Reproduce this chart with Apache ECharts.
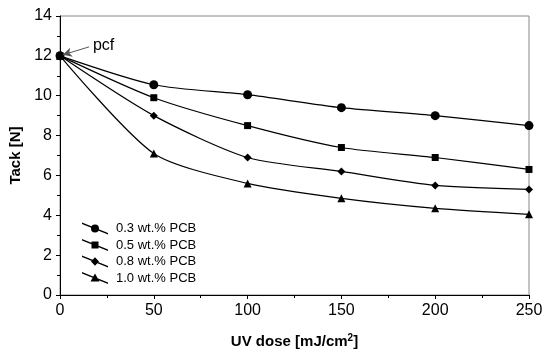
<!DOCTYPE html>
<html><head><meta charset="utf-8">
<script src="https://cdn.jsdelivr.net/npm/echarts@6/dist/echarts.min.js"></script>
<style>html,body{margin:0;padding:0;background:#fff}#c{width:550px;height:355px}</style>
</head><body><div id="c"></div>
<script>
const doses = [0, 50, 100, 150, 200, 250];
const pcb03 = [12, 10.55, 10.05, 9.4, 9.0, 8.5];
const pcb05 = [12, 9.9, 8.5, 7.4, 6.9, 6.3];
const pcb08 = [12, 9.0, 6.9, 6.2, 5.5, 5.3];
const pcb10 = [12, 7.1, 5.6, 4.85, 4.35, 4.05];
const seriesNames = ['0.3 wt.% PCB', '0.5 wt.% PCB', '0.8 wt.% PCB', '1.0 wt.% PCB'];
const xTicks = [0, 50, 100, 150, 200, 250];
const yTicks = [0, 2, 4, 6, 8, 10, 12, 14];

const FONT = 'Liberation Sans, Arial, sans-serif';
const lineIcon = 'M0,0 L26,10.6 L26,12 L0,1.4 Z ';
const icons = [
  'path://' + lineIcon + 'M17,6 A4,4 0 1 1 9,6 A4,4 0 1 1 17,6 Z',
  'path://' + lineIcon + 'M9.5,2.5 L16.5,2.5 L16.5,9.5 L9.5,9.5 Z',
  'path://' + lineIcon + 'M13,1.8 L17,6 L13,10.2 L9,6 Z',
  'path://' + lineIcon + 'M13,1.5 L17.5,9.5 L8.5,9.5 Z'
];
const symbols = ['circle', 'rect', 'diamond', 'triangle'];
const sizes = [9, 7, 8, 8];
const datasets = [pcb03, pcb05, pcb08, pcb10];

const series = datasets.map((arr, i) => ({
  name: seriesNames[i],
  type: 'line',
  data: doses.map((d, j) => [d, arr[j]]),
  smooth: 0.25,
  symbol: symbols[i],
  symbolSize: sizes[i],
  showSymbol: true,
  clip: false,
  lineStyle: { color: '#000', width: 1.2 },
  itemStyle: { color: '#000' },
  z: 3
}));
series[0].markLine = {
  silent: true,
  symbol: ['none', 'arrow'],
  symbolSize: [7, 9],
  lineStyle: { color: '#555', width: 1, type: 'solid' },
  label: { show: true, position: 'start', formatter: 'pcf', color: '#000', fontSize: 16, fontFamily: FONT, distance: 4 },
  data: [[{ coord: [15.5, 12.45] }, { coord: [1.5, 12.05] }]]
};

const chart = echarts.init(document.getElementById('c'), null, { renderer: 'canvas' });
chart.setOption({
  animation: false,
  backgroundColor: '#fff',
  grid: { left: 60, right: 21, top: 16, bottom: 60, show: true, borderColor: '#888', borderWidth: 1, backgroundColor: 'transparent' },
  legend: {
    data: seriesNames.map((n, i) => ({ name: n, icon: icons[i] })),
    orient: 'vertical',
    left: 77,
    top: 217,
    itemWidth: 26,
    itemHeight: 12,
    itemGap: 3.5,
    itemStyle: { color: '#000', borderWidth: 0 },
    lineStyle: { width: 0 },
    textStyle: { fontSize: 13, fontFamily: FONT, color: '#000', padding: [0, 0, 0, 3] },
    selectedMode: false
  },
  xAxis: {
    type: 'value', min: 0, max: 250, interval: 50,
    name: 'UV dose [mJ/cm{sup|2}]', nameLocation: 'middle', nameGap: 38,
    nameTextStyle: { fontSize: 15, fontWeight: 'bold', fontFamily: FONT, color: '#000',
      rich: { sup: { fontSize: 10, fontWeight: 'bold', fontFamily: FONT, color: '#000', padding: [0, 0, 8, 0] } } },
    axisLine: { show: true, lineStyle: { color: '#000', width: 1 } },
    axisTick: { show: true, length: 4, lineStyle: { color: '#000' } },
    minorTick: { show: true, splitNumber: 2, length: 3, lineStyle: { color: '#000' } },
    splitLine: { show: false },
    axisLabel: { fontSize: 16, fontFamily: FONT, color: '#000', margin: 8,
      formatter: v => xTicks.includes(v) ? String(v) : '' }
  },
  yAxis: {
    type: 'value', min: 0, max: 14, interval: 2,
    name: 'Tack [N]', nameLocation: 'middle', nameGap: 34, nameRotate: 90,
    nameTextStyle: { fontSize: 15, fontWeight: 'bold', fontFamily: FONT, color: '#000' },
    axisLine: { show: true, lineStyle: { color: '#000', width: 1 } },
    axisTick: { show: true, length: 4, lineStyle: { color: '#000' } },
    minorTick: { show: true, splitNumber: 2, length: 3, lineStyle: { color: '#000' } },
    splitLine: { show: false },
    axisLabel: { fontSize: 16, fontFamily: FONT, color: '#000', margin: 8,
      formatter: v => yTicks.includes(v) ? String(v) : '' }
  },
  series: series
});
</script></body></html>
